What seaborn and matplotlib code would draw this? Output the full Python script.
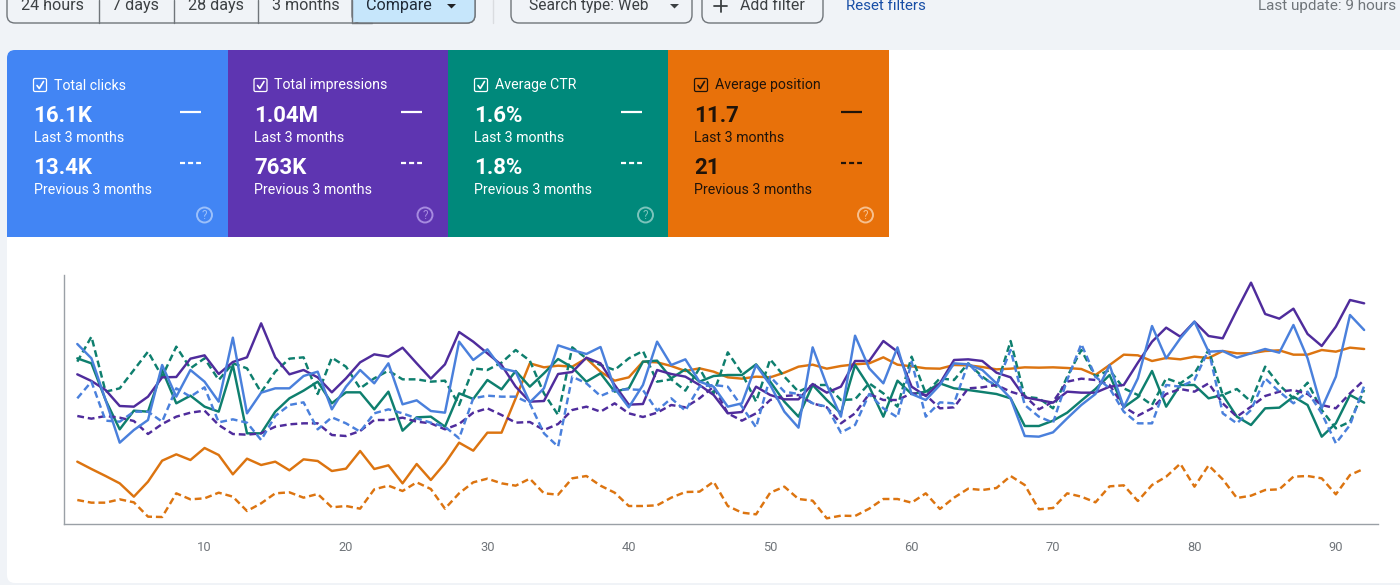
import matplotlib
matplotlib.use("Agg")
import matplotlib.pyplot as plt
from matplotlib.patches import FancyBboxPatch, Rectangle, Circle, Polygon
import pandas as pd
import seaborn as sns

days = list(range(1, 93))
tick_days = [10, 20, 30, 40, 50, 60, 70, 80, 90]

# Relative daily values (the chart has no visible y scale)
position_last = [187,165,144,122,82,127,190,209,192,228,207,149,196,177,187,161,194,189,159,166,219,165,176,122,180,132,182,244,220,274,274,377,482,470,475,472,497,457,430,440,487,485,474,459,467,457,440,436,442,440,454,472,478,466,474,479,482,500,478,473,467,466,477,476,471,464,466,470,469,470,468,465,447,477,508,506,489,498,494,502,498,519,512,512,519,521,508,508,522,517,529,525]
position_prev = [72,64,64,74,65,22,21,92,74,77,94,82,39,62,92,95,79,90,50,54,46,104,115,99,125,105,46,92,125,136,122,115,136,92,88,137,144,115,94,54,54,56,79,96,97,127,54,34,29,94,112,75,70,17,25,24,46,75,75,64,92,45,79,106,102,108,144,117,44,48,92,82,65,113,116,69,117,142,181,112,176,134,78,85,102,104,142,144,137,89,147,166]
impressions_last = [449,429,402,354,352,382,440,441,496,506,450,486,500,602,500,449,462,440,395,437,485,509,502,529,482,436,479,576,547,512,477,412,367,369,450,456,499,482,417,358,360,462,450,442,417,387,332,336,412,387,374,374,420,394,412,489,489,549,517,412,384,422,492,494,489,454,440,380,372,364,397,394,394,412,417,484,547,589,562,607,564,557,642,724,630,616,646,570,534,592,672,662]
impressions_prev = [324,316,324,319,309,270,300,322,334,340,297,270,268,272,292,299,302,302,267,264,279,312,312,319,307,302,284,300,334,347,327,304,306,282,300,342,352,337,362,332,321,334,357,350,377,412,332,310,332,372,384,387,362,350,302,332,390,372,372,392,387,347,350,407,410,417,397,384,344,367,427,436,432,417,352,325,347,390,405,397,422,362,322,352,384,397,402,390,357,347,392,432]
clicks_last = [540,497,372,244,282,312,477,382,462,427,367,559,332,394,407,407,444,457,344,412,462,422,482,359,371,339,334,547,492,524,467,457,365,407,536,522,510,531,407,350,417,547,477,494,427,412,352,362,477,417,337,289,530,417,322,565,467,422,530,390,372,417,482,479,462,422,377,264,262,275,317,357,390,477,350,437,594,497,557,607,517,519,499,512,525,514,597,497,347,442,627,582]
clicks_prev = [377,427,310,307,337,337,307,407,382,410,305,314,304,252,324,357,365,284,320,302,277,332,344,332,317,304,292,257,377,385,382,382,362,272,232,442,422,384,402,404,402,340,377,340,412,417,412,352,290,442,397,390,362,352,274,297,390,347,320,487,322,365,362,482,437,417,522,357,322,304,432,540,442,407,337,302,302,417,412,432,522,332,302,342,437,397,362,397,332,242,297,414]
ctr_last = [497,482,372,284,340,337,462,362,385,352,337,477,272,272,337,377,400,427,362,395,395,344,397,280,320,322,292,392,375,432,404,459,412,452,495,470,427,452,397,407,487,490,437,464,427,444,447,447,479,427,367,322,417,372,332,477,412,322,430,390,397,422,407,402,396,390,377,294,294,310,334,370,405,447,350,380,459,352,417,417,377,387,322,297,347,349,382,357,262,302,387,364]
ctr_prev = [487,562,397,407,462,517,442,532,467,497,432,482,467,395,457,496,500,390,499,472,407,437,460,434,434,427,430,357,467,462,484,522,490,392,327,530,497,477,462,497,519,427,434,400,467,392,515,452,367,494,442,397,417,417,372,374,422,392,352,502,392,437,432,482,442,412,549,382,377,347,442,522,442,462,407,387,357,437,422,452,522,387,405,367,472,417,377,424,342,287,307,402]

card_titles = ["Total clicks", "Total impressions", "Average CTR", "Average position"]
card_last = ["16.1K", "1.04M", "1.6%", "11.7"]
card_prev = ["13.4K", "763K", "1.8%", "21"]
period_labels = ["Last 3 months", "Previous 3 months"]
range_buttons = ["24 hours", "7 days", "28 days", "3 months", "Compare"]

metric_order = ["Average position", "Average CTR", "Total impressions", "Total clicks"]
series = {
    ("Average position", "Last"): position_last, ("Average position", "Prev"): position_prev,
    ("Average CTR", "Last"): ctr_last, ("Average CTR", "Prev"): ctr_prev,
    ("Total impressions", "Last"): impressions_last, ("Total impressions", "Prev"): impressions_prev,
    ("Total clicks", "Last"): clicks_last, ("Total clicks", "Prev"): clicks_prev,
}
df = pd.concat([pd.DataFrame({"day": days, "value": v, "metric": k[0], "period": k[1]})
                for k, v in series.items()], ignore_index=True)

line_colors = {"Total clicks": "#4a80dc", "Total impressions": "#4f2c9c",
               "Average CTR": "#0e7f6e", "Average position": "#dc7410"}

sns.set_theme(style="white")
plt.rcParams["font.family"] = ["Roboto", "DejaVu Sans"]

fig = plt.figure(figsize=(14, 5.85), dpi=100, facecolor="#f0f3f7")

# Page furniture, laid out in screen pixels
ui = fig.add_axes([0, 0, 1, 1], zorder=0)
ui.set_xlim(0, 1400)
ui.set_ylim(585, 0)
ui.axis("off")

def rbox(x0, y0, x1, y1, r, **kw):
    p = FancyBboxPatch((x0 + r, y0 + r), x1 - x0 - 2 * r, y1 - y0 - 2 * r,
                       boxstyle=f"round,pad={r},rounding_size={r}", **kw)
    ui.add_patch(p)
    return p

rbox(7, 50, 1460, 583, 8, fc="white", ec="none")

# Range selector
dark = "#3c4043"
edge = "#70757a"
rbox(7, -20, 475, 23, 8, fc="#f0f3f7", ec=edge, lw=1)
rbox(352, -20, 475, 23, 8, fc="#c6e6fb", ec=edge, lw=1)
ui.add_patch(Rectangle((352, -5), 20, 27.4, fc="#c6e6fb", ec="none"))
ui.plot([352, 372], [23, 23], color=edge, lw=1)
for xd in [98.5, 173.5, 258, 352]:
    ui.plot([xd, xd], [0, 23], color=edge, lw=1)
for label, xt in zip(range_buttons, [21, 112, 188, 272, 366]):
    ui.text(xt, 5.7, label, fontsize=11.6, color="#1f2a37" if label == "Compare" else dark, va="center")
ui.add_patch(Polygon([[447, 4], [456, 4], [451.5, 8.5]], fc="#202124", ec="none"))
ui.plot([493, 493], [0, 23], color="#dadce0", lw=1)

# Filters
rbox(511, -20, 692, 23, 8, fc="#f0f3f7", ec=edge, lw=1)
ui.text(529, 5.7, "Search type: Web", fontsize=11.2, color=dark, va="center")
ui.add_patch(Polygon([[670, 4], [679, 4], [674.5, 8.5]], fc="#3c4043", ec="none"))
rbox(702, -20, 823, 23, 8, fc="#f0f3f7", ec=edge, lw=1)
ui.plot([714, 727], [6, 6], color=dark, lw=1.3)
ui.plot([720.5, 720.5], [0, 12], color=dark, lw=1.3)
ui.text(740, 5.7, "Add filter", fontsize=11.4, color=dark, va="center")
ui.text(846, 5.7, "Reset filters", fontsize=10.9, color="#174ea6", va="center")
ui.text(1258, 5.7, "Last update: 9 hours", fontsize=11, color="#70757a", va="center", clip_on=True)

# Metric cards
edges = [7, 227.5, 448, 668, 888.5]
fills = ["#4285f4", "#5e35b1", "#00897b", "#e8710a"]
inks = ["white", "white", "white", "#20140a"]
helps = ["#9cc0fa", "#a78be0", "#7cc4bc", "#f6c08f"]
for i, title in enumerate(card_titles):
    x0, x1 = edges[i], edges[i + 1]
    ink = inks[i]
    if i == 0:
        rbox(x0, 50, x1 + 20, 237, 8, fc=fills[i], ec="none", zorder=2)
        ui.add_patch(Rectangle((x0, 62), 20, 175, fc=fills[i], ec="none", zorder=2))
        ui.add_patch(Rectangle((x0 + 10, 50), x1 - x0 - 10, 187, fc=fills[i], ec="none", zorder=2))
    else:
        ui.add_patch(Rectangle((x0, 50), x1 - x0, 187, fc=fills[i], ec="none", zorder=3))
    tx = x0 + 26.5
    ui.add_patch(FancyBboxPatch((x0 + 27.5, 79.5), 11, 11, boxstyle="round,pad=1,rounding_size=1.5",
                                fc="none", ec=ink, lw=0.9, zorder=4))
    ui.plot([x0 + 30, x0 + 32.3, x0 + 36.5], [85.5, 88.5, 81.5], color=ink, lw=1.2, zorder=4)
    ui.text(x0 + 47, 85.5, title, fontsize=10.2, color=ink, va="center", zorder=4)
    ui.text(tx, 116.5, card_last[i], fontsize=16, fontweight="bold", color=ink, va="center", zorder=4)
    ui.text(tx, 138.5, period_labels[0], fontsize=10.2, color=ink, va="center", zorder=4)
    ui.text(tx, 167.5, card_prev[i], fontsize=16, fontweight="bold", color=ink, va="center", zorder=4)
    ui.text(tx, 189.5, period_labels[1], fontsize=10.2, color=ink, va="center", zorder=4)
    ui.plot([x0 + 173, x0 + 194], [112, 112], color=ink, lw=1.6, zorder=4, solid_capstyle="butt")
    ui.plot([x0 + 173, x0 + 194], [162.5, 162.5], color=ink, lw=1.6, zorder=4,
            linestyle=(0, (2.27, 1.36)), dash_capstyle="butt")
    ui.add_patch(Circle((x0 + 197.5, 215), 7.5, fc="none", ec=helps[i], lw=1.4, zorder=4))
    ui.text(x0 + 197.5, 215.5, "?", fontsize=8.5, color=helps[i], ha="center", va="center", zorder=4)

# Chart
ax = fig.add_axes([64 / 1400, (585 - 524) / 585, (1378 - 64) / 1400, 249 / 585], zorder=1)
ax.patch.set_alpha(0)
sns.lineplot(data=df, x="day", y="value", hue="metric", style="period",
             hue_order=metric_order, style_order=["Prev", "Last"],
             palette=line_colors, dashes={"Last": "", "Prev": (2.8, 1.6)},
             estimator=None, sort=False, errorbar=None, linewidth=1.75, legend=False, ax=ax)
ax.set_xlim(0.06, 92.98)
ax.set_ylim(0, 747)
ax.set_xticks(tick_days)
ax.set_yticks([])
ax.set_xlabel("")
ax.set_ylabel("")
ax.tick_params(axis="x", length=0, pad=12, labelsize=9.3, labelcolor="#70757a")
sns.despine(ax=ax)
for side in ["left", "bottom"]:
    ax.spines[side].set_color("#9aa0a6")
    ax.spines[side].set_linewidth(1)

fig.savefig("out.png", dpi=100, facecolor=fig.get_facecolor())
